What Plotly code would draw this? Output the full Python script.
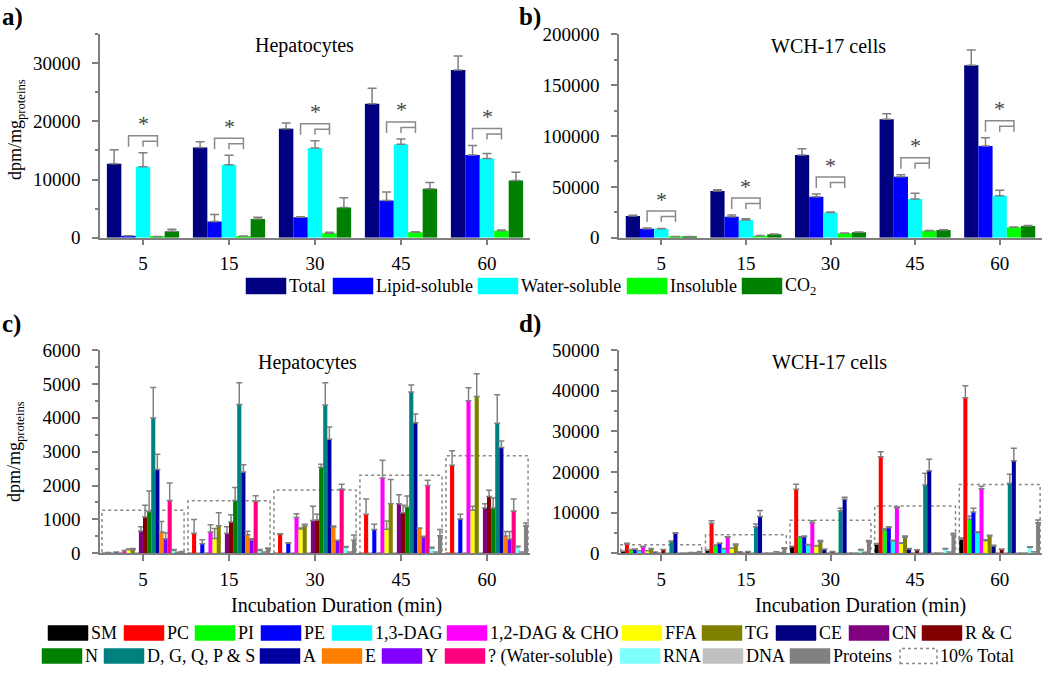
import plotly.graph_objects as go

# ---------------- DATA ----------------
durations = ['5', '15', '30', '45', '60']

# Panels a/b : fractions
frac_names = ['Total', 'Lipid-soluble', 'Water-soluble', 'Insoluble', 'CO<sub>2</sub>']

hep_total = [12700, 15500, 18700, 23000, 28800]
hep_total_err = [2400, 1000, 1000, 2700, 2400]
hep_lipid = [350, 2800, 3500, 6400, 14200]
hep_lipid_err = [0, 1200, 120, 1450, 1650]
hep_water = [12200, 12550, 15400, 16050, 13600]
hep_water_err = [2400, 1600, 1250, 920, 850]
hep_insol = [170, 230, 750, 920, 1210]
hep_insol_err = [50, 50, 170, 120, 110]
hep_co2 = [1090, 3220, 5180, 8410, 9840]
hep_co2_err = [350, 290, 1670, 1090, 1390]

wch_total = [21300, 45900, 81300, 116400, 169500]
wch_total_err = [670, 1300, 6200, 5600, 15100]
wch_lipid = [8850, 20700, 40300, 60000, 90200]
wch_lipid_err = [650, 1600, 2600, 2000, 8200]
wch_water = [8850, 17400, 24900, 38000, 41300]
wch_water_err = [300, 1300, 330, 5600, 5300]
wch_insol = [1000, 1970, 4260, 6900, 10200]
wch_insol_err = [200, 200, 300, 300, 400]
wch_co2 = [1000, 3280, 5250, 7540, 11500]
wch_co2_err = [200, 300, 300, 300, 500]

# Panels c/d : metabolites
met_names = ['SM', 'PC', 'PI', 'PE', '1,3-DAG', '1,2-DAG & CHO', 'FFA', 'TG', 'CE', 'CN',
             'R & C', 'N', 'D, G, Q, P & S', 'A', 'E', 'Y', '? (Water-soluble)', 'RNA', 'DNA',
             'Proteins']

hep_SM = [0, 0, 0, 0, 0];                 hep_SM_err = [0, 0, 0, 0, 0]
hep_PC = [20, 590, 560, 1150, 2600];      hep_PC_err = [0, 410, 20, 450, 430]
hep_PI = [0, 0, 0, 0, 0];                 hep_PI_err = [0, 0, 0, 0, 0]
hep_PE = [40, 285, 295, 700, 1015];       hep_PE_err = [0, 115, 20, 155, 135]
hep_DAG13 = [0, 0, 0, 0, 0];              hep_DAG13_err = [0, 0, 0, 0, 0]
hep_DAG12 = [80, 630, 1060, 2220, 4500];  hep_DAG12_err = [0, 215, 110, 525, 385]
hep_FFA = [110, 440, 720, 710, 1270];     hep_FFA_err = [20, 290, 30, 245, 120]
hep_TG = [100, 815, 805, 1465, 4630];     hep_TG_err = [40, 385, 50, 715, 670]
hep_CE = [0, 0, 0, 0, 0];                 hep_CE_err = [0, 0, 0, 0, 0]
hep_CN = [660, 590, 965, 1465, 1340];     hep_CN_err = [120, 190, 425, 265, 125]
hep_RC = [1070, 925, 985, 1200, 1680];    hep_RC_err = [350, 215, 165, 215, 180]
hep_N = [1230, 1560, 2540, 1365, 1340];   hep_N_err = [610, 380, 85, 325, 290]
hep_DGQPS = [3990, 4395, 4375, 4760, 3835]; hep_DGQPS_err = [900, 640, 660, 205, 845]
hep_A = [2470, 2400, 3365, 3855, 3125];   hep_A_err = [450, 215, 360, 255, 190]
hep_E = [630, 550, 775, 740, 510];        hep_E_err = [310, 100, 30, 10, 130]
hep_Y = [430, 395, 375, 480, 415];        hep_Y_err = [180, 35, 10, 20, 225]
hep_WS = [1560, 1535, 1900, 2000, 1250];  hep_WS_err = [515, 165, 135, 155, 350]
hep_RNA = [90, 90, 180, 160, 190];        hep_RNA_err = [20, 20, 20, 20, 20]
hep_DNA = [30, 40, 40, 40, 40];           hep_DNA_err = [0, 0, 0, 0, 0]
hep_Prot = [40, 140, 385, 520, 815];      hep_Prot_err = [10, 20, 155, 180, 80]

wch_SM = [490, 740, 1640, 2200, 3440];        wch_SM_err = [100, 100, 100, 200, 300]
wch_PC = [2300, 7380, 15740, 23770, 38280];   wch_PC_err = [200, 650, 1230, 1230, 2950]
wch_PI = [820, 1890, 3930, 5740, 8360];       wch_PI_err = [100, 150, 150, 300, 800]
wch_PE = [980, 2380, 4100, 6310, 10160];      wch_PE_err = [100, 150, 150, 200, 900]
wch_DAG13 = [600, 1100, 2050, 3030, 5080];    wch_DAG13_err = [50, 100, 100, 150, 200]
wch_DAG12 = [1600, 3930, 7540, 11230, 15900]; wch_DAG12_err = [150, 170, 490, 200, 580]
wch_FFA = [600, 1230, 1800, 2460, 3110];      wch_FFA_err = [50, 100, 100, 150, 200]
wch_TG = [1100, 2050, 2870, 3930, 4260];      wch_TG_err = [100, 250, 250, 300, 200]
wch_CE = [300, 330, 980, 1070, 1800];         wch_CE_err = [50, 50, 50, 100, 200]
wch_CN = [0, 0, 0, 0, 0];                     wch_CN_err = [0, 0, 0, 0, 0]
wch_RC = [900, 410, 400, 820, 980];           wch_RC_err = [50, 50, 50, 50, 50]
wch_N = [0, 0, 0, 0, 0];                      wch_N_err = [0, 0, 0, 0, 0]
wch_DGQPS = [2870, 6560, 10490, 16800, 17210]; wch_DGQPS_err = [150, 650, 580, 2870, 2220]
wch_A = [4920, 9020, 13280, 20330, 22790];    wch_A_err = [160, 1500, 490, 2780, 3030]
wch_E = [0, 0, 0, 0, 0];                      wch_E_err = [0, 0, 0, 0, 0]
wch_Y = [0, 0, 0, 0, 0];                      wch_Y_err = [0, 0, 0, 0, 0]
wch_WS = [0, 0, 0, 0, 0];                     wch_WS_err = [0, 0, 0, 0, 0]
wch_RNA = [160, 330, 820, 1070, 1480];        wch_RNA_err = [20, 30, 100, 100, 150]
wch_DNA = [150, 200, 250, 300, 400];          wch_DNA_err = [0, 0, 0, 0, 0]
wch_Prot = [330, 1230, 2870, 4510, 7540];     wch_Prot_err = [100, 150, 250, 400, 660]

# ---------------- STYLE ----------------
W, H = 1050, 673
SERIF = 'Liberation Serif, Times New Roman, serif'
AX = '#7f7f7f'
ERR = '#808080'
frac_colors = ['#000080', '#0000FF', '#00FFFF', '#00FF00', '#008000']
met_colors = ['#000000', '#FF0000', '#00FF00', '#0000FF', '#00FFFF', '#FF00FF', '#FFFF00',
              '#808000', '#000080', '#800080', '#800000', '#008000', '#008080', '#0000A0',
              '#FF8000', '#8000FF', '#FF0080', '#80FFFF', '#C0C0C0', '#808080']


def px(x):
    return x / W


def py(y):
    return 1 - y / H


# plot areas in pixels (x0, x1, ytop, ybottom)
areas = {
    '': (100, 530, 34, 237.7),
    '2': (619, 1042, 34.3, 237.7),
    '3': (100, 530, 350, 553.3),
    '4': (619, 1042, 350, 553.3),
}
yranges = {'': (0, 35000), '2': (0, 200000), '3': (0, 6000), '4': (0, 50000)}
ydticks = {'': (10000, 5000), '2': (50000, 25000), '3': (1000, 500), '4': (10000, 5000)}

fig = go.Figure()
xs = list(range(len(durations)))


def add_group(series, errs, colors, names, axis, gw, errw):
    nb = len(series)
    w = gw / nb
    for i in range(nb):
        fig.add_trace(go.Bar(
            x=xs, y=series[i], width=w, offset=-gw / 2 + i * w,
            marker=dict(color=colors[i], line=dict(width=0)),
            error_y=dict(type='data', array=errs[i], arrayminus=[0] * len(xs), symmetric=False,
                         color=ERR, thickness=1.5, width=errw),
            name=names[i], showlegend=False,
            xaxis='x' + axis, yaxis='y' + axis))
    return w


hep_frac = [hep_total, hep_lipid, hep_water, hep_insol, hep_co2]
hep_frac_err = [hep_total_err, hep_lipid_err, hep_water_err, hep_insol_err, hep_co2_err]
wch_frac = [wch_total, wch_lipid, wch_water, wch_insol, wch_co2]
wch_frac_err = [wch_total_err, wch_lipid_err, wch_water_err, wch_insol_err, wch_co2_err]

hep_met = [hep_SM, hep_PC, hep_PI, hep_PE, hep_DAG13, hep_DAG12, hep_FFA, hep_TG, hep_CE, hep_CN,
           hep_RC, hep_N, hep_DGQPS, hep_A, hep_E, hep_Y, hep_WS, hep_RNA, hep_DNA, hep_Prot]
hep_met_err = [hep_SM_err, hep_PC_err, hep_PI_err, hep_PE_err, hep_DAG13_err, hep_DAG12_err,
               hep_FFA_err, hep_TG_err, hep_CE_err, hep_CN_err, hep_RC_err, hep_N_err,
               hep_DGQPS_err, hep_A_err, hep_E_err, hep_Y_err, hep_WS_err, hep_RNA_err,
               hep_DNA_err, hep_Prot_err]
wch_met = [wch_SM, wch_PC, wch_PI, wch_PE, wch_DAG13, wch_DAG12, wch_FFA, wch_TG, wch_CE, wch_CN,
           wch_RC, wch_N, wch_DGQPS, wch_A, wch_E, wch_Y, wch_WS, wch_RNA, wch_DNA, wch_Prot]
wch_met_err = [wch_SM_err, wch_PC_err, wch_PI_err, wch_PE_err, wch_DAG13_err, wch_DAG12_err,
               wch_FFA_err, wch_TG_err, wch_CE_err, wch_CN_err, wch_RC_err, wch_N_err,
               wch_DGQPS_err, wch_A_err, wch_E_err, wch_Y_err, wch_WS_err, wch_RNA_err,
               wch_DNA_err, wch_Prot_err]

GW_TOP = 0.84
GW_BOT = 0.955
w_top = add_group(hep_frac, hep_frac_err, frac_colors, frac_names, '', GW_TOP, 4.5)
add_group(wch_frac, wch_frac_err, frac_colors, frac_names, '2', GW_TOP, 4.5)
add_group(hep_met, hep_met_err, met_colors, met_names, '3', GW_BOT, 3)
add_group(wch_met, wch_met_err, met_colors, met_names, '4', GW_BOT, 3)

shapes = []
annotations = []

# 10% total dashed boxes
for axis, totals in (('3', hep_total), ('4', wch_total)):
    for g in xs:
        shapes.append(dict(type='rect', xref='x' + axis, yref='y' + axis,
                           x0=g - GW_BOT / 2, x1=g + GW_BOT / 2, y0=0, y1=totals[g] / 10,
                           line=dict(color='#888888', width=1.5, dash='dot'),
                           fillcolor='rgba(0,0,0,0)', layer='below'))

# significance brackets
for axis, vals, errs in (('', hep_frac, hep_frac_err), ('2', wch_frac, wch_frac_err)):
    x0p, x1p, ytp, ybp = areas[axis]
    upp = (yranges[axis][1] - yranges[axis][0]) / (ybp - ytp)  # units per pixel
    for g in xs:
        cx = [g - GW_TOP / 2 + (i + 0.5) * w_top for i in range(5)]
        top = max(vals[i][g] + errs[i][g] for i in (1, 2, 3))
        y1 = top + 17 * upp
        d = 5.5 * upp
        xL, xW, xI = cx[1], cx[2], cx[3]
        path = (f'M {xL},{y1 - 2 * d} L {xL},{y1} L {xI},{y1} L {xI},{y1 - d} '
                f'M {xW},{y1 - 2 * d} L {xW},{y1 - d} L {xI},{y1 - d} L {xI},{y1 - 2 * d}')
        shapes.append(dict(type='path', path=path, xref='x' + axis, yref='y' + axis,
                           line=dict(color='#8a8a8a', width=1.5)))
        annotations.append(dict(x=xW, y=y1, xref='x' + axis, yref='y' + axis, text='*',
                                showarrow=False, yshift=12, yanchor='middle',
                                font=dict(family=SERIF, size=22, color='#444444')))

layout = dict(template='none', width=W, height=H, autosize=False,
              margin=dict(l=0, r=0, t=0, b=0, pad=0, autoexpand=False),
              paper_bgcolor='white', plot_bgcolor='white', barmode='overlay',
              showlegend=False, font=dict(family=SERIF, color='black'))

for axis, (x0p, x1p, ytp, ybp) in areas.items():
    xk = 'xaxis' + axis
    yk = 'yaxis' + axis
    layout[xk] = dict(domain=[px(x0p), px(x1p)], range=[-0.5, len(xs) - 0.5],
                      tickvals=xs, ticktext=durations, showline=True, linecolor=AX,
                      linewidth=1.5, ticks='outside', ticklen=6, tickwidth=1.5, tickcolor=AX,
                      showgrid=False, zeroline=False, ticklabelstandoff=2, automargin=False,
                      tickfont=dict(family=SERIF, size=19, color='black'),
                      anchor='y' + axis, fixedrange=True)
    dt, mdt = ydticks[axis]
    layout[yk] = dict(domain=[py(ybp), py(ytp)], range=list(yranges[axis]), tick0=0, dtick=dt,
                      tickformat='d', automargin=False,
                      showline=True, linecolor=AX, linewidth=1.5, ticks='outside', ticklen=6,
                      tickwidth=1.5, tickcolor=AX,
                      minor=dict(dtick=mdt, tick0=0, ticks='outside', ticklen=3.5,
                                 tickwidth=1.5, tickcolor=AX),
                      showgrid=False, zeroline=False, ticklabelstandoff=8,
                      tickfont=dict(family=SERIF, size=19, color='black'),
                      anchor='x' + axis, fixedrange=True)

# texts
def ann(text, xpx, ypx, size, xanchor='center', yanchor='middle', angle=0):
    annotations.append(dict(text=text, x=px(xpx), y=py(ypx), xref='paper', yref='paper',
                            showarrow=False, xanchor=xanchor, yanchor=yanchor, textangle=angle,
                            borderpad=0, borderwidth=0,
                            font=dict(family=SERIF, size=size, color='black')))


ann('<b>a)</b>', 2, 17, 25, xanchor='left')
ann('<b>b)</b>', 519, 17, 25, xanchor='left')
ann('<b>c)</b>', 2, 324, 25, xanchor='left')
ann('<b>d)</b>', 519, 324, 25, xanchor='left')
ann('Hepatocytes', 304, 46, 20)
ann('WCH-17 cells', 828, 46, 20)
ann('Hepatocytes', 307, 362, 20)
ann('WCH-17 cells', 829, 362, 20)
ann('dpm/mg<sub>proteins</sub>', 16, 130, 18, angle=-90)
ann('dpm/mg<sub>proteins</sub>', 16, 452, 18, angle=-90)
ann('Incubation Duration (min)', 336, 605, 20)
ann('Incubation Duration (min)', 860, 605, 20)

# custom legends
def legend_item(label, x0, yc, color, dashed=False, sw=40, sh=15, size=18):
    if dashed:
        shapes.append(dict(type='rect', xref='paper', yref='paper', x0=px(x0), x1=px(x0 + sw),
                           y0=py(yc + sh / 2), y1=py(yc - sh / 2), fillcolor='white',
                           line=dict(color='#888888', width=1.5, dash='dot')))
    else:
        shapes.append(dict(type='rect', xref='paper', yref='paper', x0=px(x0), x1=px(x0 + sw),
                           y0=py(yc + sh / 2), y1=py(yc - sh / 2), fillcolor=color,
                           line=dict(color=color, width=0.5)))
    ann(label, x0 + sw + 3, yc, size, xanchor='left')


top_leg_x = [246, 333, 478, 627, 742]
for i, name in enumerate(frac_names):
    legend_item(name, top_leg_x[i], 286, frac_colors[i], sh=16)

row1_x = [48, 124, 195, 261, 332, 447, 622, 702, 776, 849, 922]
row2_x = [42, 104, 260, 322, 382, 445, 620, 703, 790]
for i in range(11):
    legend_item(met_names[i], row1_x[i], 633, met_colors[i])
for j in range(9):
    legend_item(met_names[11 + j], row2_x[j], 656, met_colors[11 + j])
legend_item('10% Total', 900, 656, None, dashed=True, sw=37)

layout['shapes'] = shapes
layout['annotations'] = annotations
fig.update_layout(**layout)
fig.write_html('out.html', config={'displayModeBar': False},
               post_script="document.body.style.margin='0px';")
